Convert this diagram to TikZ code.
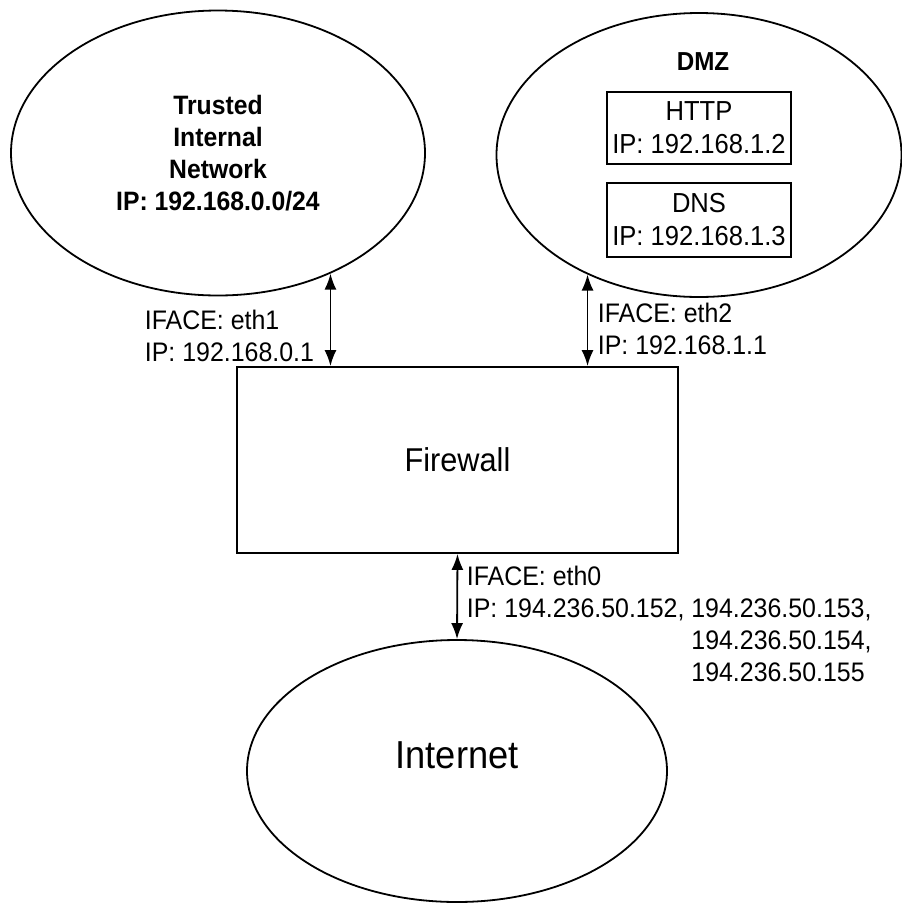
\documentclass[tikz,border=0pt]{standalone}
\usepackage{fontspec}
\setmainfont[FakeStretch=0.93]{Liberation Sans}
\usetikzlibrary{shapes.geometric,arrows.meta}

\begin{document}
\begin{tikzpicture}
  [x=1pt,y=-1pt,line width=1.8pt,
   net/.style={ellipse,draw,inner sep=0pt},
   host/.style={rectangle,draw,align=center,inner sep=0pt,font=\fontsize{27.5}{33}\selectfont},
   iface/.style={align=left,inner sep=0pt,anchor=north west,font=\fontsize{26.8}{32}\selectfont},
   link/.style={{Latex[length=16pt,width=12pt]}-{Latex[length=16pt,width=12pt]}}]
  \useasboundingbox (0,0) rectangle (902,903);
  \node[net,minimum width=414pt,minimum height=285pt,align=center,
        font=\bfseries\fontsize{26.6}{32}\selectfont] (trusted) at (218,153)
        {Trusted\\Internal\\Network\\IP: 192.168.0.0/24};
  \node[net,minimum width=405pt,minimum height=284pt] (dmz) at (699,155) {};
  \node[font=\bfseries\fontsize{26}{30}\selectfont] (dmztitle) at (703,62) {DMZ};
  \node[host,minimum width=184pt,minimum height=72pt] (http) at (699,128) {HTTP\\IP: 192.168.1.2};
  \node[host,minimum width=184pt,minimum height=74pt] (dns) at (699,220) {DNS\\IP: 192.168.1.3};
  \node[rectangle,draw,minimum width=441pt,minimum height=186pt,
        font=\fontsize{33}{38}\selectfont] (fw) at (457.5,460) {Firewall};
  \node[net,minimum width=420pt,minimum height=262pt,
        label={[font=\fontsize{39}{46}\selectfont,yshift=16pt]center:Internet}] (inet) at (457,771) {};

  \draw[link] (trusted.-47) -- (trusted.-47 |- fw.north);
  \draw[link] (dmz.-133) -- (dmz.-133 |- fw.north);
  \draw[link] (fw.south) -- (inet.north);

  \node[iface] (eth1) at (144,309) {IFACE: eth1\\IP: 192.168.0.1};
  \node[iface] (eth2) at (597,302) {IFACE: eth2\\IP: 192.168.1.1};
  \node[iface] (eth0) at (466,562) {\begin{tabular}{@{}l@{\ }l@{}}
    IFACE: eth0 & \\
    IP: 194.236.50.152, & 194.236.50.153,\\
    & 194.236.50.154,\\
    & 194.236.50.155
  \end{tabular}};
\end{tikzpicture}
\end{document}
